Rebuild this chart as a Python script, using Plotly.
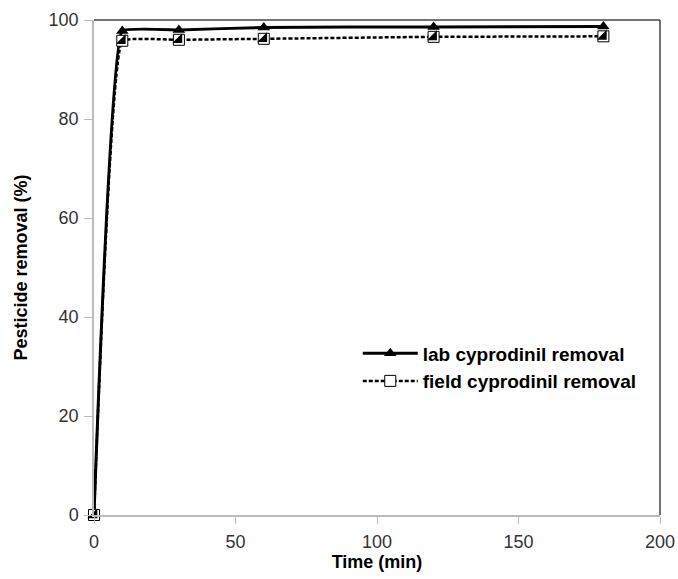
import plotly.graph_objects as go

time_min = [0, 10, 30, 60, 120, 180]
lab_removal = [0, 97.8, 98.0, 98.5, 98.6, 98.7]
field_removal = [0, 95.8, 96.0, 96.2, 96.6, 96.7]

lab_name = "lab cyprodinil removal"
field_name = "field cyprodinil removal"

fig = go.Figure()

fig.add_trace(go.Scatter(
    x=time_min, y=lab_removal, name=lab_name,
    mode="lines+markers",
    line=dict(color="black", width=3, shape="spline", smoothing=0.25),
    marker=dict(symbol="triangle-up", size=11, color="black"),
    cliponaxis=False,
))
fig.add_trace(go.Scatter(
    x=time_min, y=field_removal, name=field_name,
    mode="lines+markers",
    line=dict(color="black", width=2.5, dash="4px,2px", shape="spline", smoothing=0.25),
    marker=dict(symbol="square", size=11, color="white", line=dict(color="black", width=1)),
    cliponaxis=False,
))
fig.add_trace(go.Scatter(
    x=time_min, y=field_removal, name=field_name,
    mode="markers", showlegend=False,
    marker=dict(symbol="triangle-se", size=11, color="black", line=dict(width=0)),
    cliponaxis=False,
))

fig.update_layout(
    width=678, height=579,
    margin=dict(l=94, r=18, t=20, b=64),
    plot_bgcolor="white", paper_bgcolor="white",
    font=dict(family="Liberation Sans, Arial, sans-serif", size=18, color="#333"),
    showlegend=True,
    legend=dict(
        x=0.466, y=0.365, xanchor="left", yanchor="top",
        bgcolor="rgba(0,0,0,0)",
        font=dict(size=19, color="black", family="Liberation Sans, Arial, sans-serif", weight="bold"),
        tracegroupgap=0, itemwidth=55,
    ),
    xaxis=dict(
        range=[0, 200], tickvals=[0, 50, 100, 150, 200],
        showgrid=False, zeroline=False, automargin=False,
        showline=True, linecolor="#bbbbbb", linewidth=1.5,
        ticks="outside", ticklen=7, tickcolor="#bbbbbb", ticklabelstandoff=3,
        title=dict(text="<b>Time (min)</b>", font=dict(size=18, color="black"), standoff=4),
    ),
    yaxis=dict(
        range=[0, 100], tickvals=[0, 20, 40, 60, 80, 100],
        showgrid=False, zeroline=False, automargin=False,
        showline=True, linecolor="#bbbbbb", linewidth=1.5,
        ticks="outside", ticklen=8, tickcolor="#bbbbbb", ticklabelstandoff=2,
        title=dict(text="<b>Pesticide removal (%)</b>", font=dict(size=18, color="black"), standoff=16),
    ),
)

fig.add_shape(type="line", xref="paper", yref="paper", x0=0, x1=1, y0=1, y1=1,
              line=dict(color="#444", width=1.5))
fig.add_shape(type="line", xref="paper", yref="paper", x0=1, x1=1, y0=0, y1=1,
              line=dict(color="#444", width=1.5))

fig.write_html("out.html")
